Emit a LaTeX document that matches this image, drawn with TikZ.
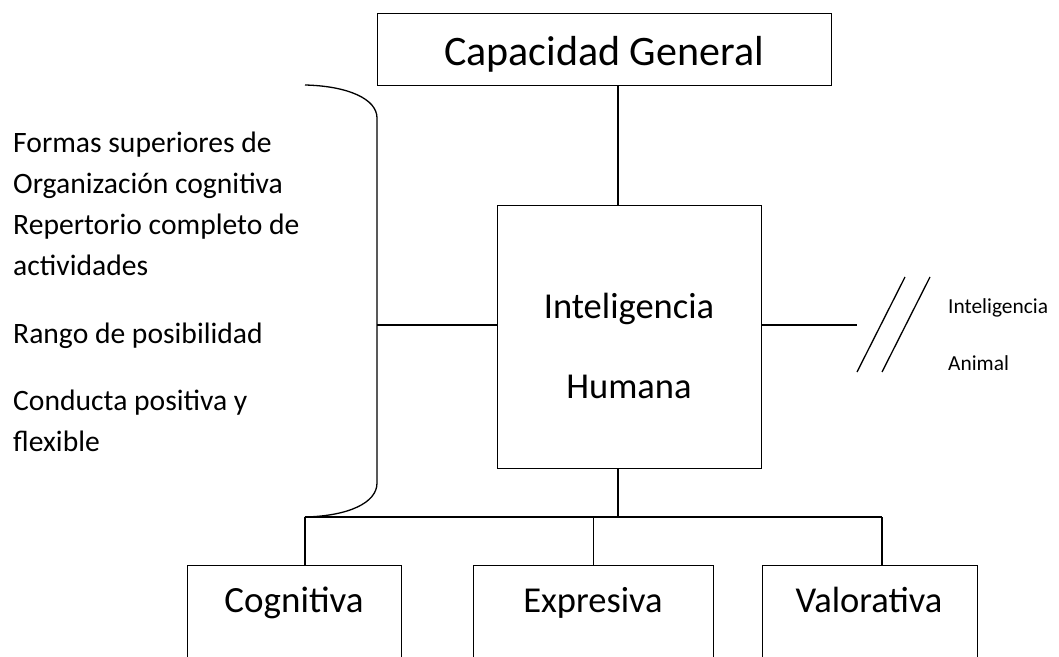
\documentclass[tikz,border=0pt]{standalone}
\usepackage{fontspec}
\setmainfont{Carlito}
\newcommand\tam[1]{\fontsize{#1}{#1}\selectfont}
\tikzset{caja/.style={draw, line width=1.3pt, inner sep=0pt, anchor=north west},
  linea/.style={line width=1.3pt},
  texto/.style={anchor=base, inner sep=0pt},
  lista/.style={anchor=base west, inner sep=0pt, font=\tam{29.6}}}
\begin{document}
\begin{tikzpicture}[x=1pt,y=-1pt]
\clip (0,0) rectangle (1059,656);
% cajas
\node[caja, minimum width=454pt, minimum height=72pt] (cap) at (377,13) {};
\node[caja, minimum width=264pt, minimum height=263pt] (hum) at (497,205) {};
\node[caja, minimum width=214pt, minimum height=130pt] (cog) at (187,565) {};
\node[caja, minimum width=240pt, minimum height=130pt] (exp) at (473,565) {};
\node[caja, minimum width=215pt, minimum height=130pt] (val) at (762,565) {};
% textos de las cajas
\node[texto, font=\tam{42}] (captxt) at (604,65) {Capacidad General};
\node[texto, font=\tam{36.5}] (humtxt1) at (629,318) {Inteligencia};
\node[texto, font=\tam{36.5}] (humtxt2) at (629,398) {Humana};
\node[texto, font=\tam{37}] (cogtxt) at (294,612) {Cognitiva};
\node[texto, font=\tam{36.5}] (exptxt) at (593,612) {Expresiva};
\node[texto, font=\tam{36.5}] (valtxt) at (869,612) {Valorativa};
% lista de la izquierda
\node[lista] (l1) at (13,152) {Formas superiores de};
\node[lista] (l2) at (13,193) {Organización cognitiva};
\node[lista] (l3) at (13,234) {Repertorio completo de};
\node[lista] (l4) at (13,275) {actividades};
\node[lista] (l5) at (13,343) {Rango de posibilidad};
\node[lista] (l6) at (13,410) {Conducta positiva y};
\node[lista] (l7) at (13,451) {flexible};
% inteligencia animal
\node[anchor=base west, inner sep=0pt, font=\tam{21.4}] (ani1) at (948,313) {Inteligencia};
\node[anchor=base west, inner sep=0pt, font=\tam{21.4}] (ani2) at (948,370) {Animal};
% conectores
\coordinate (eje) at (618,0);
\coordinate (llave) at (305,85);
\coordinate (llavemed) at (377,325);
\coordinate (bizq) at (305,517);
\coordinate (bder) at (882,517);
\coordinate (corte) at (857,325);
\draw[linea] (cap.south -| eje) -- (hum.north -| eje);
\draw[linea] (hum.south -| eje) -- (bizq -| eje);
\draw[linea] (bizq) -- (bder);
\draw[linea] (bizq) -- (cog.north -| bizq);
\draw[linea] (bizq -| exp.north) -- (exp.north);
\draw[linea] (bder) -- (val.north -| bder);
\draw[linea] (bizq) .. controls (348,516) and (377,503) .. (377,483) -- (377,118)
  .. controls (377,99) and (348,86) .. (llave);
\draw[linea] (llavemed) -- (llavemed -| hum.west);
\draw[linea] (hum.east |- llavemed) -- (corte);
\draw[linea] (857,372) -- (905,277);
\draw[linea] (882,372) -- (930,277);
\end{tikzpicture}
\end{document}
